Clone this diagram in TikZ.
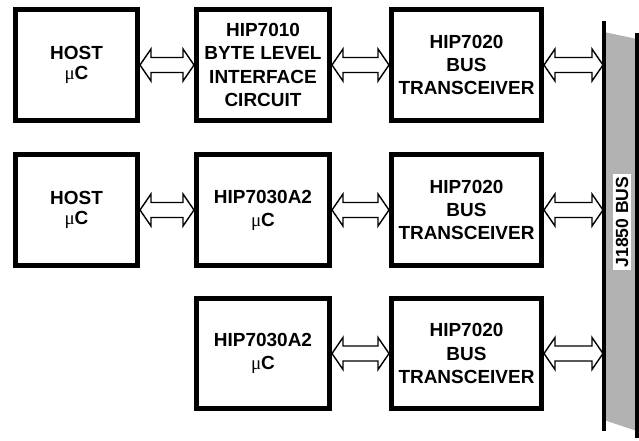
\documentclass[tikz,border=0pt]{standalone}
\usepackage{fontspec}
\setmainfont{Liberation Sans}
\newfontfamily\serifmu{Liberation Serif}
\usetikzlibrary{calc}

\newcommand{\mc}{{\serifmu\mdseries μ}C}
\newcommand{\dblarrow}[2]{%
    \draw[flecha] let \p1=(#1), \p2=(#2) in
        (\x1,\y1) -- (\x1+0.22cm,\y1+0.32cm) -- (\x1+0.22cm,\y1+0.15cm)
        -- (\x2-0.22cm,\y1+0.15cm) -- (\x2-0.22cm,\y1+0.32cm) -- (\x2,\y1)
        -- (\x2-0.22cm,\y1-0.32cm) -- (\x2-0.22cm,\y1-0.15cm)
        -- (\x1+0.22cm,\y1-0.15cm) -- (\x1+0.22cm,\y1-0.32cm) -- cycle;}

\begin{document}
\begin{tikzpicture}[
        x=0.02cm, y=-0.02cm,
        every node/.style={font=\fontsize{10.8}{13.2}\selectfont\bfseries, align=center},
        bloque/.style={draw, line width=0.1cm, minimum height=2.22cm, inner sep=0pt},
        flecha/.style={draw, fill=white, line width=0.8pt, line join=miter},
        bus/.style={line width=0.07cm}
    ]
    \useasboundingbox (0,0) rectangle (639,440);

    % Fila 1
    \node[bloque, minimum width=2.44cm] (host1) at (76.5,65) {HOST\\[-2pt]\mc};
    \node[bloque, minimum width=2.66cm] (interfaz) at (263,65) {HIP7010\\BYTE LEVEL\\INTERFACE\\CIRCUIT};
    \node[bloque, minimum width=3cm] (trans1) at (466.5,65) {HIP7020\\BUS\\TRANSCEIVER};

    % Fila 2
    \node[bloque, minimum width=2.44cm] (host2) at (76.5,210) {HOST\\[-2pt]\mc};
    \node[bloque, minimum width=2.66cm] (micro2) at (263,210) {HIP7030A2\\\mc};
    \node[bloque, minimum width=3cm] (trans2) at (466.5,210) {HIP7020\\BUS\\TRANSCEIVER};

    % Fila 3
    \node[bloque, minimum width=2.66cm] (micro3) at (263,353.5) {HIP7030A2\\\mc};
    \node[bloque, minimum width=3cm] (trans3) at (466.5,353.5) {HIP7020\\BUS\\TRANSCEIVER};

    % Bus
    \fill[black!30] (604,32) -- (637,39) -- (637,431) -- (604,420) -- cycle;
    \draw[bus] (604,21) -- (604,431);
    \draw[bus] (637,33) -- (637,438);
    \node[fill=white, rotate=90, inner sep=1.5pt, font=\fontsize{10}{12}\selectfont\bfseries] (busLabel) at (622,222) {J1850 BUS};
    \coordinate (busA) at (603,65);
    \coordinate (busB) at (603,210);
    \coordinate (busC) at (603,353.5);

    % Flechas
    \dblarrow{host1.east}{interfaz.west}
    \dblarrow{interfaz.east}{trans1.west}
    \dblarrow{trans1.east}{busA}
    \dblarrow{host2.east}{micro2.west}
    \dblarrow{micro2.east}{trans2.west}
    \dblarrow{trans2.east}{busB}
    \dblarrow{micro3.east}{trans3.west}
    \dblarrow{trans3.east}{busC}
\end{tikzpicture}
\end{document}
